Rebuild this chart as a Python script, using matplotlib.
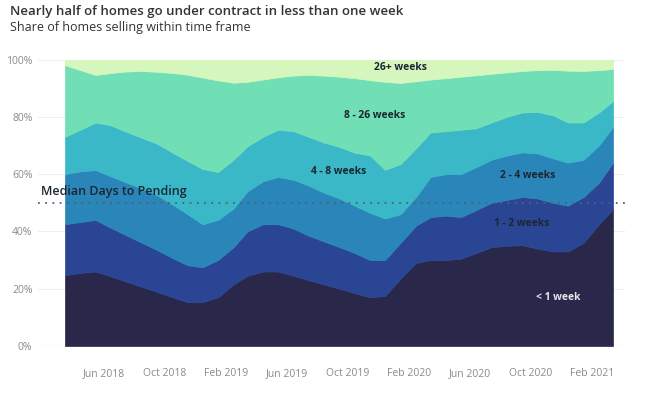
import matplotlib
matplotlib.use("Agg")
import matplotlib.pyplot as plt
import pandas as pd
import numpy as np

plt.rcParams['font.family'] = ['Open Sans', 'DejaVu Sans']

# Monthly observations, Mar 2018 - Mar 2021
months = pd.date_range('2018-03-01', '2021-03-01', freq='MS') + pd.Timedelta(days=14)

under_1_week = [24.7, 25.5, 26.0, 24.3, 22.5, 20.7, 18.9, 17.1, 15.3, 15.3, 17.0, 21.5, 24.5,
                26.0, 26.0, 24.5, 23.0, 21.5, 20.0, 18.5, 17.0, 17.5, 23.5, 29.0, 30.0, 30.0,
                30.5, 32.5, 34.5, 35.0, 35.2, 34.0, 33.0, 33.0, 36.0, 42.5, 47.7]
weeks_1_2 = [17.8, 17.8, 18.0, 16.9, 16.2, 15.4, 14.6, 13.7, 12.9, 12.2, 13.0, 13.0, 15.5,
             16.5, 16.5, 16.5, 15.5, 15.0, 14.5, 14.0, 13.0, 12.5, 12.5, 13.0, 15.0, 15.5,
             14.5, 15.0, 15.5, 16.0, 16.8, 17.5, 17.0, 16.0, 16.0, 14.5, 16.3]
weeks_2_4 = [17.5, 17.7, 17.4, 18.0, 18.4, 18.9, 19.2, 18.7, 17.8, 15.0, 14.0, 13.5, 14.0,
             15.0, 16.5, 17.0, 17.5, 17.0, 17.0, 16.5, 16.5, 14.5, 10.0, 10.0, 14.0, 14.5,
             15.0, 15.0, 15.0, 15.5, 15.6, 15.7, 15.5, 15.0, 13.0, 13.0, 12.5]
weeks_4_8 = [13.0, 14.5, 16.6, 17.8, 17.7, 17.7, 17.9, 18.1, 18.6, 19.3, 16.7, 17.0, 15.7,
             15.5, 16.5, 17.0, 17.0, 17.5, 18.0, 18.5, 20.0, 17.0, 17.5, 17.0, 15.5, 15.0,
             15.5, 13.5, 13.0, 13.5, 13.9, 14.5, 15.0, 14.0, 13.0, 11.5, 9.0]
weeks_8_26 = [25.0, 20.8, 16.6, 18.3, 21.0, 23.3, 25.1, 27.7, 30.1, 31.9, 32.0, 26.9, 22.5,
              20.0, 18.3, 19.4, 21.6, 23.4, 24.5, 26.0, 26.3, 30.7, 28.3, 23.4, 18.5, 18.5,
              18.5, 18.5, 17.0, 15.5, 14.5, 14.6, 15.9, 18.1, 18.0, 14.8, 11.2]
weeks_26_plus = [2.0, 3.7, 5.4, 4.7, 4.2, 4.0, 4.3, 4.7, 5.3, 6.3, 7.3, 8.1, 7.8, 7.0, 6.2,
                 5.6, 5.4, 5.6, 6.0, 6.5, 7.2, 7.8, 8.2, 7.6, 7.0, 6.5, 6.0, 5.5, 5.0, 4.5,
                 4.0, 3.7, 3.6, 3.9, 4.0, 3.7, 3.3]

series_labels = ['< 1 week', '1 - 2 weeks', '2 - 4 weeks', '4 - 8 weeks', '8 - 26 weeks', '26+ weeks']
colors = ['#29284a', '#2b4595', '#2a86b8', '#3ab8c8', '#71dfb5', '#d5f6bd']

tick_dates = pd.to_datetime(['2018-06-01', '2018-10-01', '2019-02-01', '2019-06-01', '2019-10-01',
                             '2020-02-01', '2020-06-01', '2020-10-01', '2021-02-01'])
tick_labels = ['Jun 2018', 'Oct 2018', 'Feb 2019', 'Jun 2019', 'Oct 2019',
               'Feb 2020', 'Jun 2020', 'Oct 2020', 'Feb 2021']
median_level = 50

fig = plt.figure(figsize=(6.66, 3.99), dpi=100)
ax = fig.add_axes([38/666, 53/399, 587/666, 286.5/399])

polys = ax.stackplot(months, under_1_week, weeks_1_2, weeks_2_4, weeks_4_8, weeks_8_26,
                     weeks_26_plus, colors=colors, linewidth=0)
for p, c in zip(polys, colors):
    p.set_edgecolor(c)
    p.set_linewidth(0.5)

ax.set_ylim(0, 100)
ax.set_xlim(pd.Timestamp('2018-01-20'), pd.Timestamp('2021-04-08'))
ax.set_yticks([0, 20, 40, 60, 80, 100])
ax.set_yticklabels(['0%', '20%', '40%', '60%', '80%', '100%'])
ax.set_xticks(tick_dates)
ax.set_xticklabels(tick_labels)
ax.tick_params(axis='both', length=0, labelsize=7.5, labelcolor='#8a8a8a')
ax.tick_params(axis='x', pad=16)
ax.tick_params(axis='y', pad=4)
for s in ax.spines.values():
    s.set_visible(False)
ax.grid(axis='y', color='#efefef', linewidth=0.8)
ax.set_axisbelow(True)
ax.axhline(0, color='#d8d8de', linewidth=0.8, zorder=0.5)

ax.axhline(median_level, color='#4d6272', linestyle=(0, (1, 3)), linewidth=1.3, zorder=5)
ax.text(0.005, median_level + 1.8, 'Median Days to Pending', transform=ax.get_yaxis_transform(),
        fontsize=9, fontweight='semibold', color='#1c2633', ha='left', va='bottom', zorder=6)

def xfrac(px):
    return (px - 38) / 587

def yval(py):
    return (346 - py) / 2.865

label_pos = [(558, 297, '#e6e6ea'), (522, 224, '#1c2633'), (528, 176, '#1c2633'),
             (339, 171, '#1c2633'), (375, 116, '#1c2633'), (400, 68, '#1c2633')]
for name, (px, py, c) in zip(series_labels, label_pos):
    ax.text(xfrac(px), yval(py), name, transform=ax.get_yaxis_transform(),
            fontsize=7.4, fontweight='bold', color=c, ha='center', va='center', zorder=6)

fig.text(10/666, 1 - 11/399, 'Nearly half of homes go under contract in less than one week',
         fontsize=9.5, fontweight='semibold', color='#333333', ha='left', va='center')
fig.text(10/666, 1 - 27/399, 'Share of homes selling within time frame',
         fontsize=9, color='#333333', ha='left', va='center')

fig.savefig('out.png', dpi=100)
